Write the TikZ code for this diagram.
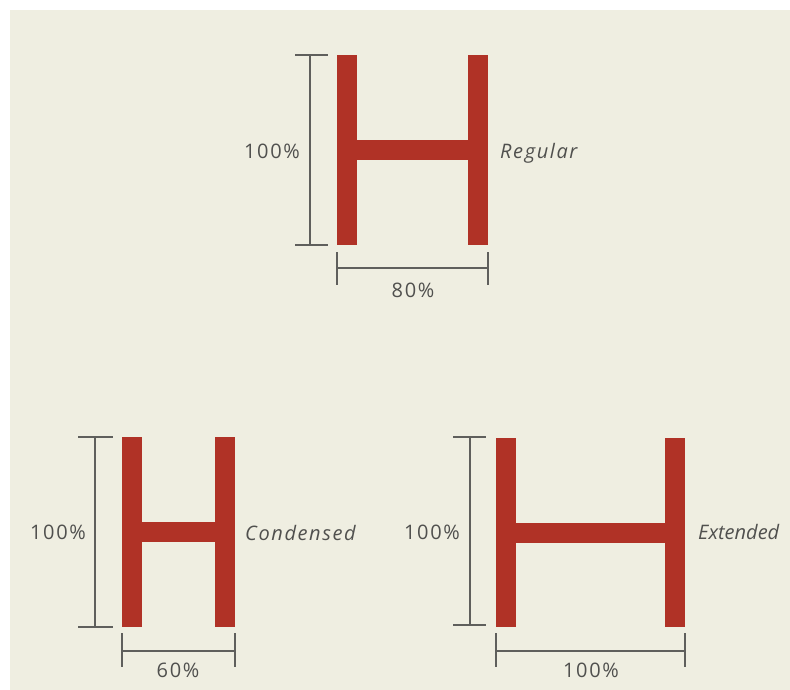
\documentclass[tikz,border=0pt]{standalone}
\usepackage{fontspec}
\setmainfont{Open Sans}[LetterSpace=8]
\definecolor{hred}{RGB}{176,50,38}
\definecolor{paper}{RGB}{239,238,225}
\definecolor{rulegray}{RGB}{95,95,92}
\definecolor{textgray}{RGB}{80,80,78}

\begin{document}
\begin{tikzpicture}[x=1pt,y=-1pt,
    stem/.style={fill=hred},
    dimline/.style={draw=rulegray,line width=1.3pt},
    dimlabel/.style={text=textgray,font=\fontsize{20}{24}\selectfont,inner sep=0pt,anchor=base},
    widthname/.style={dimlabel,font=\fontsize{20}{24}\selectfont\itshape,anchor=base west}]
        % page
        \fill[white] (0,0) rectangle (790,690);
        \fill[paper] (10,10) rectangle (790,690);
        \useasboundingbox (0,0) rectangle (790,690);

        % regular
        \fill[stem] (337,55) rectangle (357,245);
        \fill[stem] (468,55) rectangle (488,245);
        \fill[stem] (357,140) rectangle (468,160);
        \coordinate (rv1) at (310,55);
        \coordinate (rv2) at (310,245);
        \coordinate (rh1) at (337,268);
        \coordinate (rh2) at (488,268);
        \draw[dimline] (rv1) -- (rv2);
        \draw[dimline] ([xshift=-15pt]rv1) -- ([xshift=18pt]rv1);
        \draw[dimline] ([xshift=-15pt]rv2) -- ([xshift=18pt]rv2);
        \draw[dimline] (rh1) -- (rh2);
        \draw[dimline] ([yshift=16pt]rh1) -- ([yshift=-17pt]rh1);
        \draw[dimline] ([yshift=16pt]rh2) -- ([yshift=-17pt]rh2);
        \node[dimlabel] (rheight) at (272,158) {100\%};
        \node[dimlabel] (rwidth) at (413,297) {80\%};
        \node[widthname] (rname) at (500,158) {Regular};

        % condensed
        \fill[stem] (122,437) rectangle (142,627);
        \fill[stem] (215,437) rectangle (235,627);
        \fill[stem] (142,522) rectangle (215,542);
        \coordinate (cv1) at (95,437);
        \coordinate (cv2) at (95,627);
        \coordinate (ch1) at (122,651);
        \coordinate (ch2) at (235,651);
        \draw[dimline] (cv1) -- (cv2);
        \draw[dimline] ([xshift=-17pt]cv1) -- ([xshift=18pt]cv1);
        \draw[dimline] ([xshift=-17pt]cv2) -- ([xshift=18pt]cv2);
        \draw[dimline] (ch1) -- (ch2);
        \draw[dimline] ([yshift=18pt]ch1) -- ([yshift=-16pt]ch1);
        \draw[dimline] ([yshift=18pt]ch2) -- ([yshift=-16pt]ch2);
        \node[dimlabel] (cheight) at (58,539) {100\%};
        \node[dimlabel] (cwidth) at (178,677) {60\%};
        \node[widthname] (cname) at (245,540) {Condensed};

        % extended
        \fill[stem] (496,438) rectangle (516,627);
        \fill[stem] (665,438) rectangle (685,627);
        \fill[stem] (516,523) rectangle (665,543);
        \coordinate (ev1) at (470,437);
        \coordinate (ev2) at (470,625);
        \coordinate (eh1) at (496,651);
        \coordinate (eh2) at (685,651);
        \draw[dimline] (ev1) -- (ev2);
        \draw[dimline] ([xshift=-17pt]ev1) -- ([xshift=16pt]ev1);
        \draw[dimline] ([xshift=-17pt]ev2) -- ([xshift=16pt]ev2);
        \draw[dimline] (eh1) -- (eh2);
        \draw[dimline] ([yshift=18pt]eh1) -- ([yshift=-16pt]eh1);
        \draw[dimline] ([yshift=18pt]eh2) -- ([yshift=-16pt]eh2);
        \node[dimlabel] (eheight) at (432,539) {100\%};
        \node[dimlabel] (ewidth) at (591,677) {100\%};
        \node[widthname] (ename) at (698,539) {\addfontfeature{LetterSpace=0}Extended};
      \end{tikzpicture}
\end{document}
